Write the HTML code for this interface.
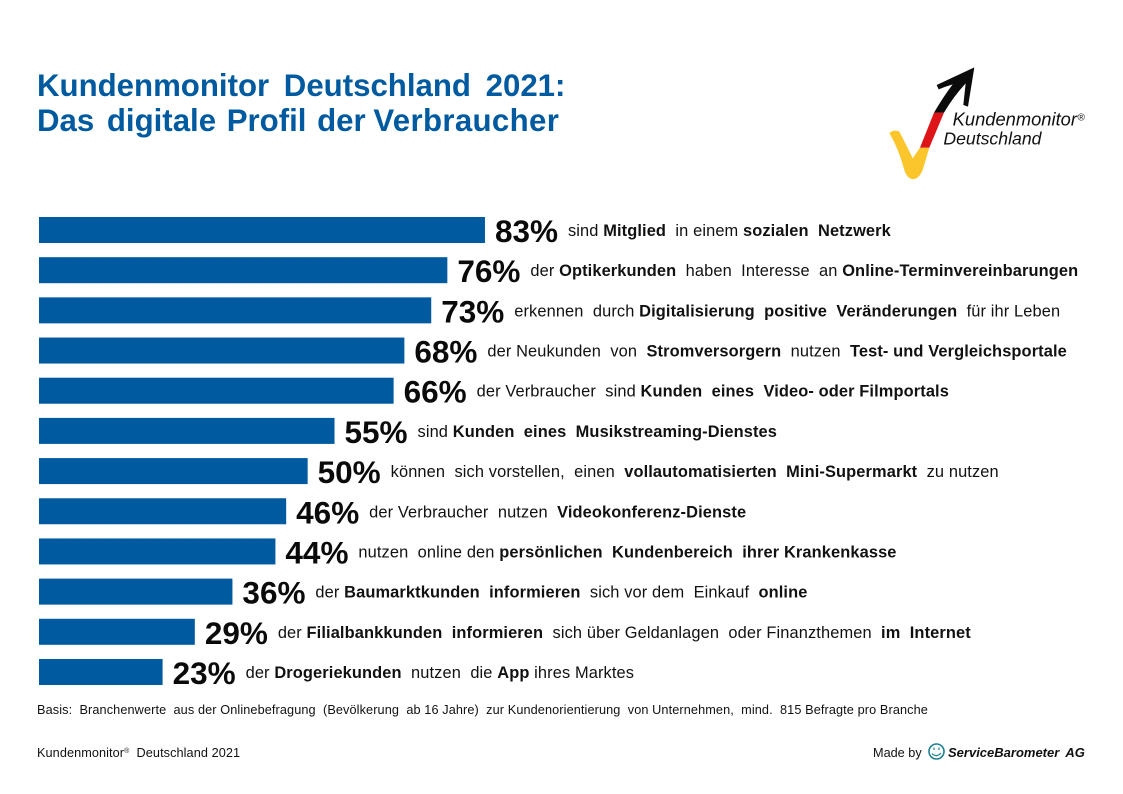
<!DOCTYPE html>
<html lang="de">
<head>
<meta charset="utf-8">
<title>Kundenmonitor Deutschland 2021</title>
<style>
html,body{margin:0;padding:0;background:#fff;}
body{width:1123px;height:794px;overflow:hidden;position:relative;font-family:"Liberation Sans",Arial,sans-serif;}
svg{position:absolute;left:0;top:0;display:block;}
text{font-family:"Liberation Sans",Arial,sans-serif;white-space:pre;}
</style>
</head>
<body>
<svg id="chart" width="1123" height="794" viewBox="0 0 1123 794">
  <g fill="#005aa0" font-size="31.2" font-weight="700">
    <text x="37" y="96" word-spacing="6">Kundenmonitor Deutschland 2021:</text>
    <text x="37" y="131" word-spacing="4">Das digitale <tspan dx="-2">Profil</tspan> <tspan dx="-2">der</tspan> <tspan dx="-5" letter-spacing=".35">Verbraucher</tspan></text>
  </g>
  <g transform="translate(870 55) scale(.3333)">
    <path d="M58 234Q72 222 88 230Q110 272 128 310L150 278H178L158 345Q145 376 125 372Q108 368 100 335Q85 280 58 234Z" fill="#fbc62c"/>
    <path d="M150 278L192 173H222L178 278Z" fill="#dd1518"/>
    <path d="M192 173Q220 125 248 88Q225 95 206 103L200 90L313 37L294 155L280 150L287 85Q250 125 222 173Z" fill="#0b0b0b"/>
    <text x="248" y="212" font-size="55" font-style="italic" fill="#111">Kundenmonitor</text>
    <text x="622" y="197" font-size="30" font-style="italic" fill="#111">®</text>
    <text x="220" y="268" font-size="53" font-style="italic" fill="#111">Deutschland</text>
  </g>
  <g id="bars"></g>
  <text x="37" y="714" font-size="12.7" letter-spacing=".11" fill="#111">Basis:  Branchenwerte  aus der Onlinebefragung  (Bevölkerung  ab 16 Jahre)  zur Kundenorientierung  von Unternehmen,  mind.  815 Befragte pro Branche</text>
  <text x="37" y="757" font-size="12.7" letter-spacing=".08" fill="#111">Kundenmonitor<tspan font-size="7" dy="-4">®</tspan><tspan dy="4">  Deutschland 2021</tspan></text>
  <text x="873" y="757" font-size="12.7" fill="#111">Made by</text>
  <g fill="none" stroke="#1d7f93">
    <circle cx="936.5" cy="751.5" r="7.5" stroke-width="1.6"/>
    <path d="M932 753.5Q936.5 758 941 753" stroke-width="1.2"/>
    <path d="M934 747.5V750M939 747.5V750" stroke-width="1.2"/>
  </g>
  <text x="948" y="757" font-size="13" font-weight="700" font-style="italic" word-spacing="3" fill="#111">ServiceBarometer AG</text>
</svg>
<script>
const percentValues = [83, 76, 73, 68, 66, 55, 50, 46, 44, 36, 29, 23];
const rowDescriptions = [
  "sind *Mitglied*  in einem *sozialen  Netzwerk*",
  "der *Optikerkunden*  haben  Interesse  an *Online-Terminvereinbarungen*",
  "erkennen  durch *Digitalisierung  positive  Veränderungen*  für ihr Leben",
  "der Neukunden  von  *Stromversorgern*  nutzen  *Test- und Vergleichsportale*",
  "der Verbraucher  sind *Kunden  eines  Video- oder Filmportals*",
  "sind *Kunden  eines  Musikstreaming-Dienstes*",
  "können  sich vorstellen,  einen  *vollautomatisierten  Mini-Supermarkt*  zu nutzen",
  "der Verbraucher  nutzen  *Videokonferenz-Dienste*",
  "nutzen  online den *persönlichen  Kundenbereich  ihrer Krankenkasse*",
  "der *Baumarktkunden  informieren*  sich vor dem  Einkauf  *online*",
  "der *Filialbankkunden  informieren*  sich über Geldanlagen  oder Finanzthemen  *im  Internet*",
  "der *Drogeriekunden*  nutzen  die *App* ihres Marktes"
];
const NS = "http://www.w3.org/2000/svg";
const barsGroup = document.getElementById("bars");
function xScale(v) { return 39 + v * 5.373; }
function yScale(i) { return 217 + i * 40.18; }
percentValues.forEach(function (v, i) {
  const y = yScale(i);
  const bar = document.createElementNS(NS, "rect");
  bar.setAttribute("x", 39);
  bar.setAttribute("y", y);
  bar.setAttribute("width", xScale(v) - 39);
  bar.setAttribute("height", 26);
  bar.setAttribute("fill", "#005aa0");
  
  
  barsGroup.appendChild(bar);

  const pct = document.createElementNS(NS, "text");
  pct.setAttribute("x", xScale(v) + 10);
  pct.setAttribute("y", y + 25);
  pct.setAttribute("font-size", "31.5");
  pct.setAttribute("font-weight", "700");
  pct.setAttribute("fill", "#0a0a0a");
  pct.textContent = v + "%";
  
  
  barsGroup.appendChild(pct);

  const desc = document.createElementNS(NS, "text");
  desc.setAttribute("x", xScale(v) + 83);
  desc.setAttribute("y", y + 19);
  desc.setAttribute("font-size", "16.4");
  desc.setAttribute("letter-spacing", ".12");
  desc.setAttribute("fill", "#111");
  
  
  rowDescriptions[i].split("*").forEach(function (part, k) {
    const span = document.createElementNS(NS, "tspan");
    if (k % 2 === 1) span.setAttribute("font-weight", "700");
    span.textContent = part;
    desc.appendChild(span);
  });
  barsGroup.appendChild(desc);
});
</script>
</body>
</html>
